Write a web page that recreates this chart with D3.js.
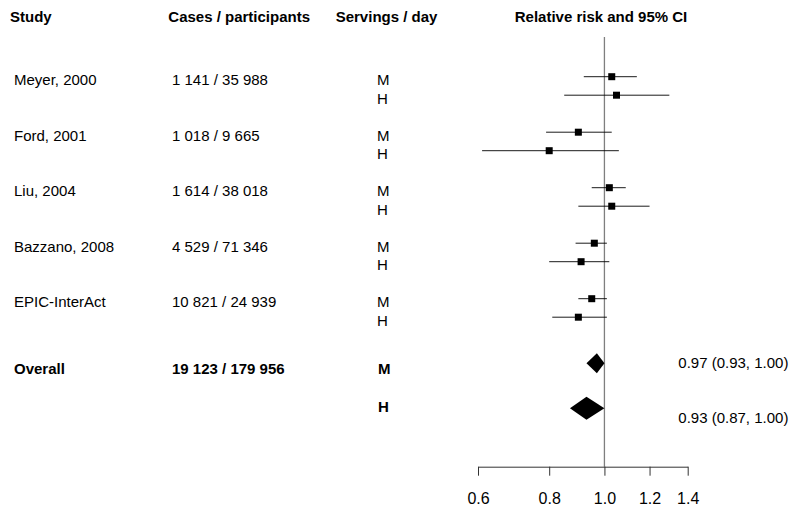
<!DOCTYPE html>
<html><head><meta charset="utf-8">
<script src="https://cdn.jsdelivr.net/npm/d3@7/dist/d3.min.js"></script>
<style>body{margin:0;background:#fff}svg{display:block}text{font-family:"Liberation Sans",Arial,sans-serif;font-size:15px;fill:#000}</style>
</head><body><svg id="c" width="800" height="512"></svg>
<script>
const studies = ["Meyer, 2000","Ford, 2001","Liu, 2004","Bazzano, 2008","EPIC-InterAct"];
const cases = ["1 141 / 35 988","1 018 / 9 665","1 614 / 38 018","4 529 / 71 346","10 821 / 24 939"];
const levels = ["M","H"];
const rrM  = [1.03, 0.90, 1.02, 0.96, 0.95];
const loM  = [0.92, 0.79, 0.95, 0.89, 0.90];
const hiM  = [1.14, 1.03, 1.09, 1.01, 1.01];
const rrH  = [1.05, 0.80, 1.03, 0.91, 0.90];
const loH  = [0.85, 0.61, 0.90, 0.80, 0.81];
const hiH  = [1.30, 1.06, 1.20, 1.02, 1.01];
const overallCases = "19 123 / 179 956";
const overallRR = [0.97, 0.93];
const overallLo = [0.93, 0.87];
const overallHi = [1.00, 1.00];
const ticks = [0.6, 0.8, 1.0, 1.2, 1.4];
const headers = ["Study","Cases / participants","Servings / day","Relative risk and 95% CI"];

const svg = d3.select("#c");
const x = d3.scaleLog().domain([0.6, 1.4]).range([478, 687.7]);
const y = d3.scaleLinear().domain([0, 1]).range([76.7, 95.2]);
const fmt = d3.format(".2f");

// headers
svg.append("text").attr("x",10).attr("y",22.3).attr("font-weight","bold").text(headers[0]);
svg.append("text").attr("x",168.3).attr("y",22.3).attr("font-weight","bold").text(headers[1]);
svg.append("text").attr("x",335.7).attr("y",22.3).attr("font-weight","bold").text(headers[2]);
svg.append("text").attr("x",601).attr("y",22.3).attr("font-weight","bold").attr("text-anchor","middle").text(headers[3]);

// reference line
svg.append("line").attr("x1",x(1)).attr("x2",x(1)).attr("y1",37).attr("y2",466.7)
  .attr("stroke","#7f7f7f").attr("stroke-width",1.3);

// study rows
const rows = [];
studies.forEach((s,i)=>{
  rows.push({i, lvl:0, rr:rrM[i], lo:loM[i], hi:hiM[i], r:3*i});
  rows.push({i, lvl:1, rr:rrH[i], lo:loH[i], hi:hiH[i], r:3*i+1});
});
const g = svg.append("g");
studies.forEach((s,i)=>{
  g.append("text").attr("x",14).attr("y",y(3*i)+8.3).text(s);
  g.append("text").attr("x",172).attr("y",y(3*i)+8.3).text(cases[i]);
});
rows.forEach(d=>{
  g.append("text").attr("x",377).attr("y",y(d.r)+8.3).text(levels[d.lvl]);
  g.append("line").attr("x1",x(d.lo)).attr("x2",x(d.hi)).attr("y1",y(d.r)).attr("y2",y(d.r))
    .attr("stroke","#000").attr("stroke-width",0.9);
  g.append("rect").attr("x",x(d.rr)-3.5).attr("y",y(d.r)-3.5).attr("width",7).attr("height",7).attr("fill","#000");
});

// overall
const oy = [363.3, 408.3];
const ohalf = [10, 11.5];
svg.append("text").attr("x",14).attr("y",374.3).attr("font-weight","bold").text("Overall");
svg.append("text").attr("x",172).attr("y",374.3).attr("font-weight","bold").text(overallCases);
svg.append("text").attr("x",378).attr("y",374.3).attr("font-weight","bold").text(levels[0]);
svg.append("text").attr("x",378).attr("y",411.7).attr("font-weight","bold").text(levels[1]);
overallRR.forEach((rr,k)=>{
  const cy = oy[k], h = ohalf[k];
  const pts = [[x(overallLo[k]),cy],[x(rr),cy-h],[x(overallHi[k]),cy],[x(rr),cy+h]];
  svg.append("path").attr("d","M"+pts.map(p=>p.join(",")).join("L")+"Z").attr("fill","#000");
  svg.append("text").attr("x",678.3).attr("y",[368.3,423.3][k])
    .text(`${fmt(rr)} (${fmt(overallLo[k])}, ${fmt(overallHi[k])})`);
});

// axis
const ax = svg.append("g").attr("transform","translate(0,466.7)")
  .call(d3.axisBottom(x).tickValues(ticks).tickFormat(d3.format(".1f")).tickSize(9).tickPadding(17).tickSizeOuter(0));
ax.select(".domain").attr("stroke","#333");
ax.selectAll(".tick line").attr("stroke","#333");
ax.selectAll(".tick text").style("font-size","16px").attr("fill","#000");
</script></body></html>
